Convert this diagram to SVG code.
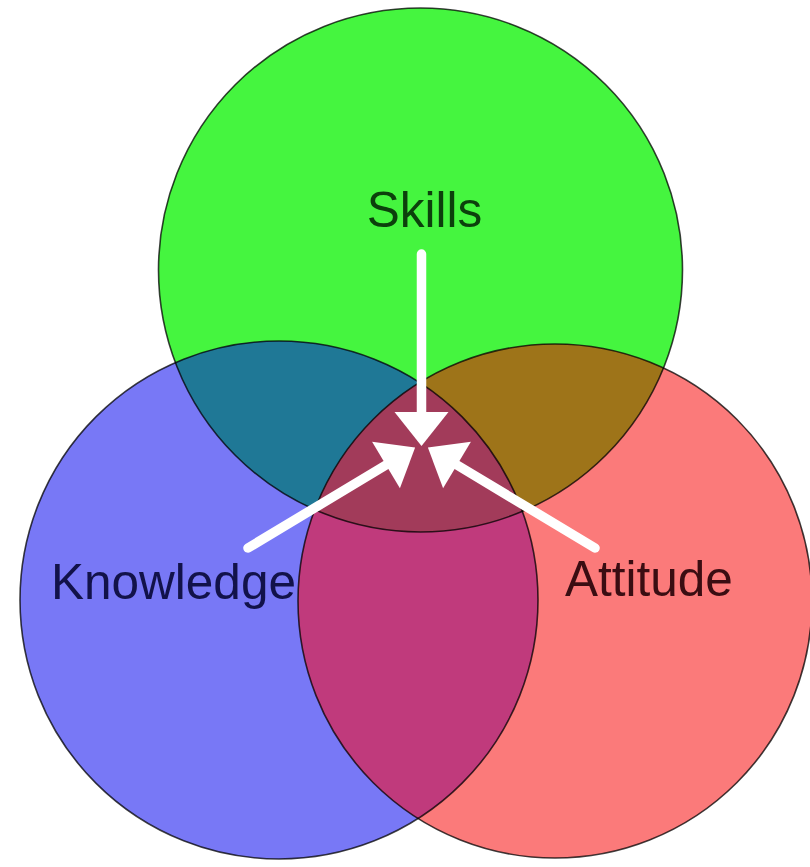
<svg xmlns="http://www.w3.org/2000/svg" width="810" height="867" viewBox="0 0 810 867">
  <style>
    .lbl { font-family: "Liberation Sans", Arial, sans-serif; font-size: 49.5px; }
    .edge { fill: none; stroke: #000; stroke-opacity: 0.75; stroke-width: 1.6; }
    .arrow { stroke: #fff; stroke-width: 9.5; stroke-linecap: round; fill: none; }
  </style>
  <defs>
    <clipPath id="clipG"><circle cx="420.5" cy="270" r="262"/></clipPath>
    <clipPath id="clipB"><circle cx="279" cy="600" r="259"/></clipPath>
    <clipPath id="clipR"><circle cx="555" cy="601" r="257"/></clipPath>
    <marker id="head" markerUnits="userSpaceOnUse" markerWidth="38" markerHeight="58" viewBox="-2 -28 38 56" refX="0" refY="0" orient="auto">
      <path d="M0,-27 L34,0 L0,27 Z" fill="#fff"/>
    </marker>
  </defs>
  <rect width="810" height="867" fill="#fff"/>

  <g id="skills">
    <circle cx="420.5" cy="270" r="262" fill="#45f53f"/>
  </g>
  <g id="knowledge">
    <circle cx="279" cy="600" r="259" fill="#7878f6"/>
  </g>
  <g id="attitude">
    <circle cx="555" cy="601" r="257" fill="#fb7a7a"/>
  </g>
  <g id="overlaps">
    <circle cx="279" cy="600" r="259" fill="#1f7896" clip-path="url(#clipG)"/>
    <circle cx="555" cy="601" r="257" fill="#9e7419" clip-path="url(#clipG)"/>
    <circle cx="555" cy="601" r="257" fill="#c03a7c" clip-path="url(#clipB)"/>
    <g clip-path="url(#clipB)">
      <circle cx="555" cy="601" r="257" fill="#a23b5a" clip-path="url(#clipG)"/>
    </g>
  </g>
  <g id="outlines">
    <circle class="edge" cx="420.5" cy="270" r="262"/>
    <circle class="edge" cx="279" cy="600" r="259"/>
    <circle class="edge" cx="555" cy="601" r="257"/>
  </g>

  <g id="connectors">
    <line class="arrow" x1="421.5" y1="254" x2="421.5" y2="412" marker-end="url(#head)"/>
    <line class="arrow" x1="248" y1="548" x2="386" y2="465" marker-end="url(#head)"/>
    <line class="arrow" x1="595" y1="548" x2="457" y2="465" marker-end="url(#head)"/>
  </g>

  <g id="labels">
    <text class="lbl" x="424.5" y="227" text-anchor="middle" fill="#0c400c">Skills</text>
    <text class="lbl" x="51" y="599" fill="#12124a">Knowledge</text>
    <text class="lbl" x="565" y="596" fill="#3a0d12">Attitude</text>
  </g>
</svg>
